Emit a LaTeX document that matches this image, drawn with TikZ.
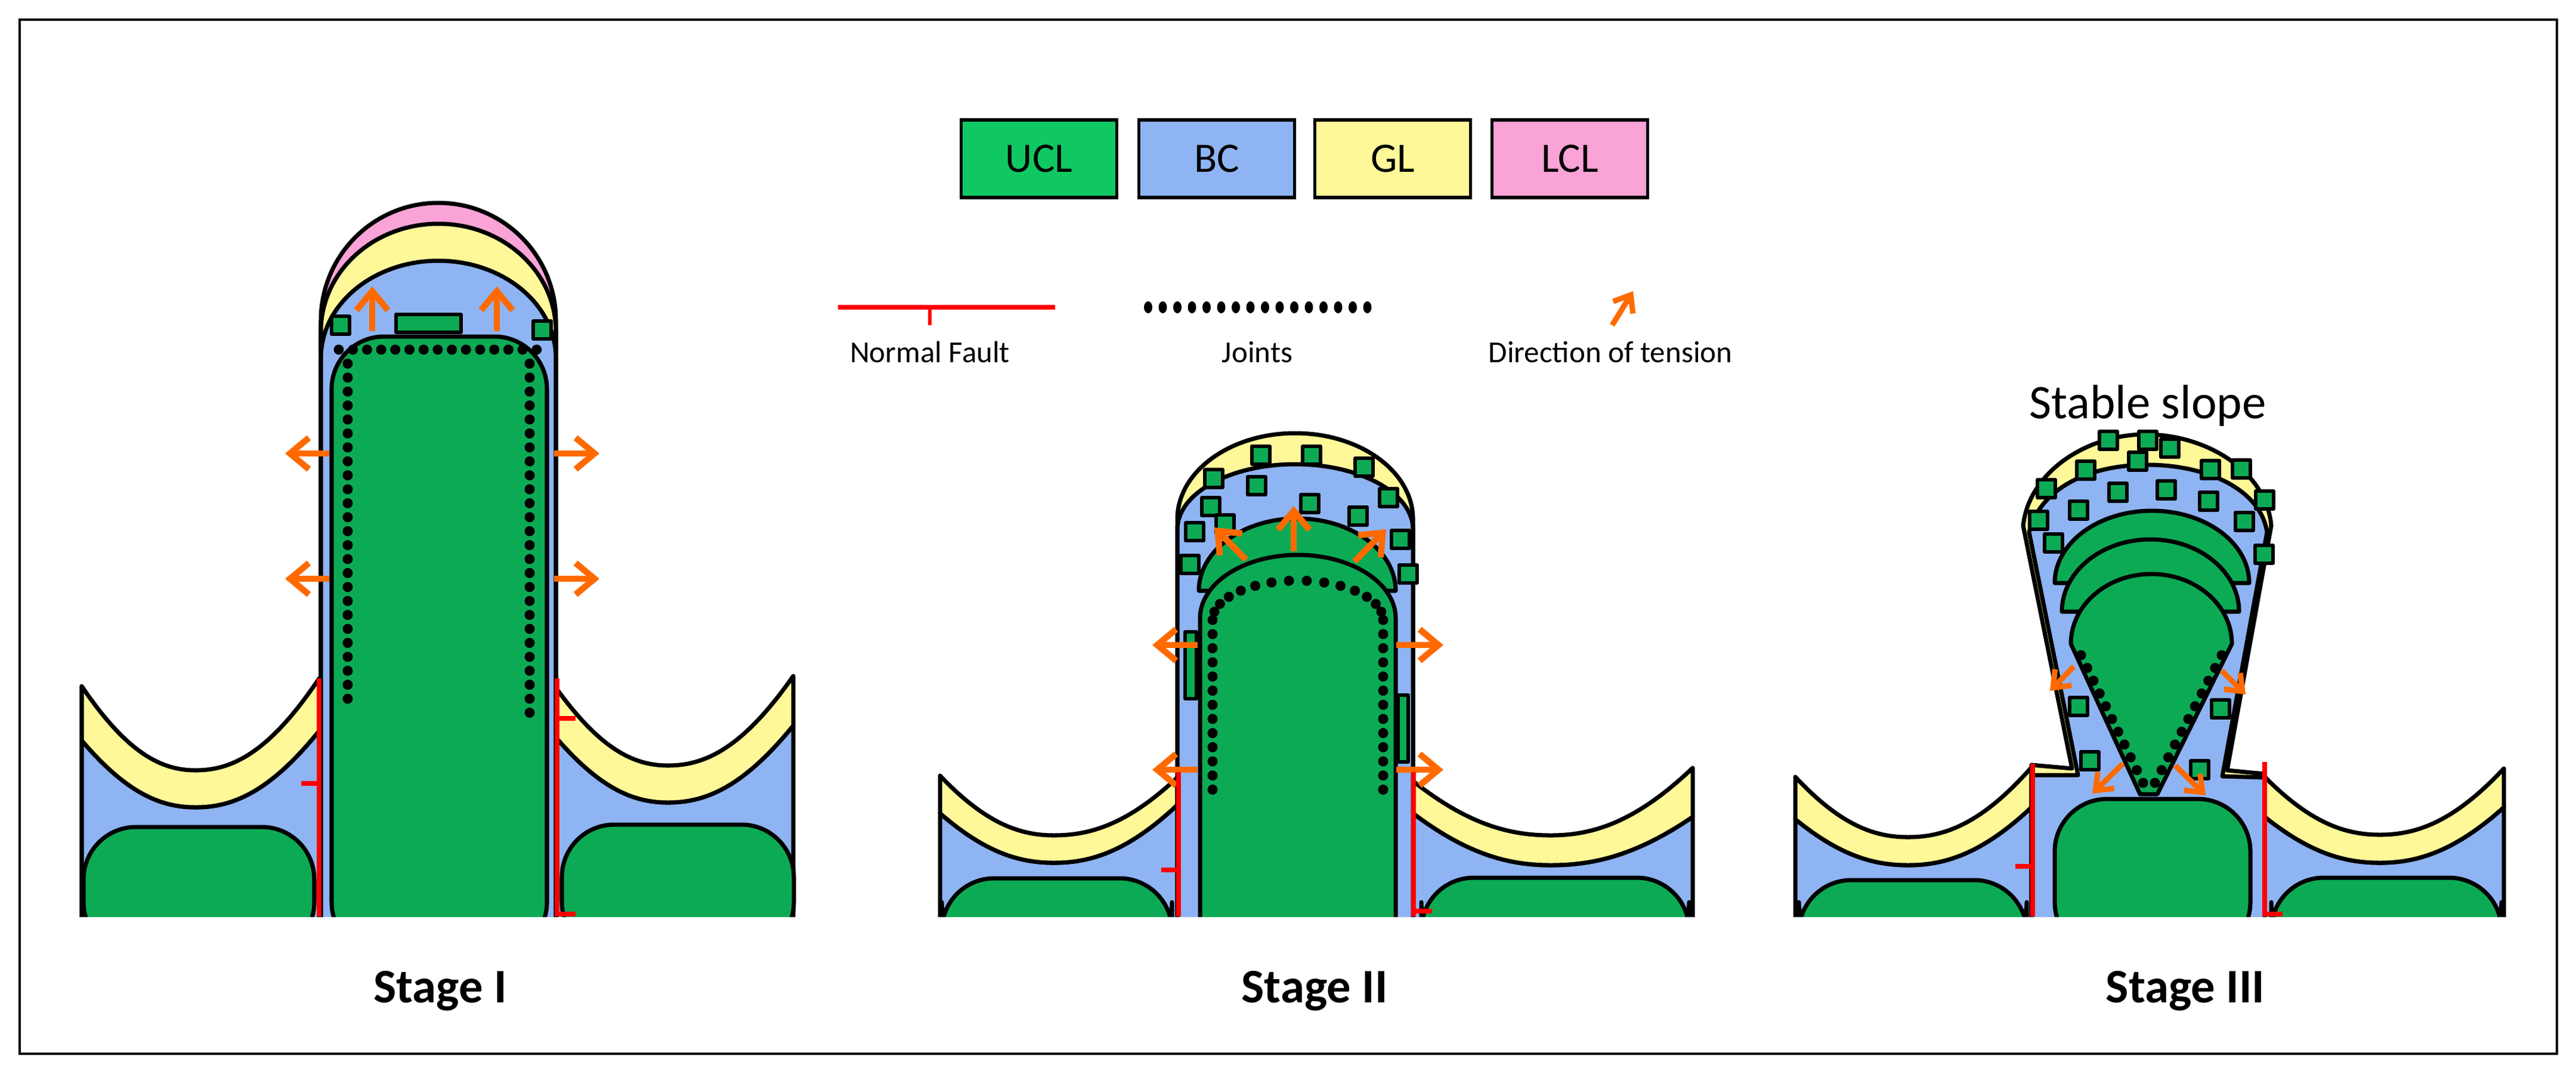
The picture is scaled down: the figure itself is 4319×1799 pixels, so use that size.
\documentclass[tikz,border=0pt]{standalone}
\usepackage{fontspec}
\setmainfont{Carlito}
\usetikzlibrary{arrows.meta}
\definecolor{ucl}{HTML}{0DAA55}
\definecolor{uclleg}{HTML}{10C862}
\definecolor{bc}{HTML}{8FB4F3}
\definecolor{gl}{HTML}{FFF899}
\definecolor{lcl}{HTML}{F9A3D6}
\definecolor{tens}{HTML}{FF6A00}
\newcommand\flank[9]{%
\path[ol,fill=bc] (#1,#3) .. controls ({#1+0.4*(#4-#1)},{#3+0.8*(#6-#3)}) and ({#4-0.3*(#4-#1)},#6) .. (#4,#6) .. controls ({#4+0.3*(#7-#4)},#6) and ({#7-0.4*(#7-#4)},{#9+0.8*(#6-#9)}) .. (#7,#9) -- (#7,1600) -- (#1,1600) -- cycle;
\path[ol,fill=gl] (#1,#2) .. controls ({#1+0.4*(#4-#1)},{#2+0.8*(#5-#2)}) and ({#4-0.3*(#4-#1)},#5) .. (#4,#5) .. controls ({#4+0.3*(#7-#4)},#5) and ({#7-0.4*(#7-#4)},{#8+0.8*(#5-#8)}) .. (#7,#8) -- (#7,#9) .. controls ({#7-0.4*(#7-#4)},{#9+0.8*(#6-#9)}) and ({#4+0.3*(#7-#4)},#6) .. (#4,#6) .. controls ({#4-0.3*(#4-#1)},#6) and ({#1+0.4*(#4-#1)},{#3+0.8*(#6-#3)}) .. (#1,#3) -- cycle;}
\newcommand\sqr[2]{\path[ol,fill=ucl,line width=1.6pt] ({#1-15},{#2-15}) rectangle ({#1+15},{#2+15});}
\begin{document}
\begin{tikzpicture}[x=0.01cm,y=-0.01cm,
 ol/.style={draw=black,line width=2pt,line join=round},
 arr/.style={draw=tens,line width=3pt,-{Straight Barb[length=9pt,width=15pt,line width=3pt]}},
 arrs/.style={draw=tens,line width=2.6pt,-{Straight Barb[length=7pt,width=11pt,line width=2.6pt]}},
 fault/.style={draw=red,line width=2.2pt},
 dot/.style={fill=black},
 leg/.style={draw=black,line width=1.5pt,minimum width=2.61cm,minimum height=1.3cm,font=\fontsize{20}{24}\selectfont},
 small/.style={font=\fontsize{14.5}{17}\selectfont},
 stage/.style={font=\bfseries\fontsize{23}{27}\selectfont}]
\useasboundingbox (0,0) rectangle (4319,1799);
\draw[line width=1.2pt] (33,33) rectangle (4287,1766);
% legend
\node[leg,fill=uclleg] (ucl) at (1742,266) {UCL};
\node[leg,fill=bc] (bcl) at (2040,266) {BC};
\node[leg,fill=gl] (gll) at (2335,266) {GL};
\node[leg,fill=lcl] (lcll) at (2632,266) {LCL};
\draw[draw=red,line width=2.5pt] (1405,515) -- (1769,515);
\draw[draw=red,line width=1.6pt] (1559,515) -- (1559,545);
\node[small] (nf) at (1559,590) {Normal Fault};
\foreach \i in {0,...,15} \fill[black] ({1925+\i*24.5},515) ellipse [x radius=7,y radius=10];
\node[small] (jt) at (2108,590) {Joints};
\draw[arrs] (2703,545) -- (2738,488);
\node[small] (dt) at (2700,590) {Direction of tension};
\node[stage] (s1) at (738,1661) {Stage I};
\node[stage] (s2) at (2204,1661) {Stage II};
\node[stage] (s3) at (3664,1661) {Stage III};
\node[font=\fontsize{23}{27}\selectfont] (ss) at (3601,680) {Stable slope};
\begin{scope}
\clip (0,0) rectangle (4319,1536);
% ===== Stage I
\flank{137}{1150}{1241}{328}{1291}{1353}{535}{1137}{1225}
\flank{933}{1154}{1237}{1120}{1283}{1345}{1330}{1133}{1216}
\path[ol,fill=ucl,rounded corners=25] (140,1386) rectangle (527,1600);
\path[ol,fill=ucl,rounded corners=25] (942,1382) rectangle (1331,1600);
\path[ol,fill=lcl] (538,1600) -- (538,537) arc[start angle=180,end angle=360,x radius=197,y radius=197] -- (932,1600) -- cycle;
\path[ol,fill=gl] (538,590) -- (538,555) arc[start angle=180,end angle=360,x radius=197,y radius=180] -- (932,590) -- cycle;
\path[ol,fill=bc] (538,1600) -- (538,600) arc[start angle=180,end angle=360,x radius=197,y radius=163] -- (932,1600) -- cycle;
\path[ol,fill=ucl,rounded corners=25] (556,1600) rectangle (917,564);
\sqr{571}{545}\sqr{909}{553}
\path[ol,fill=ucl,line width=1.6pt] (664,527) rectangle (773,557);
\draw[arr] (624,555) -- (624,480);
\draw[arr] (833,555) -- (833,480);
\draw[arr] (552,760) -- (478,760);
\draw[arr] (552,970) -- (478,970);
\draw[arr] (929,760) -- (1005,760);
\draw[arr] (929,970) -- (1005,970);
\foreach \i in {0,...,14} \fill[dot] ({568+\i*23.7},586) circle[radius=8.5];
\foreach \i in {1,...,25} \fill[dot] (583,{586+\i*23.4}) circle[radius=8.5];
\foreach \i in {1,...,26} \fill[dot] (888,{586+\i*23.4}) circle[radius=8.5];
\draw[fault] (535,1137) -- (535,1536);
\draw[fault] (535,1313) -- (505,1313);
\draw[fault] (934,1137) -- (934,1536);
\draw[fault] (934,1204) -- (965,1204);
\draw[fault] (934,1532) -- (965,1532);
% ===== Stage II
\flank{1576}{1300}{1363}{1767}{1400}{1446}{1974}{1303}{1349}
\flank{2369}{1309}{1363}{2600}{1400}{1450}{2838}{1287}{1369}
\path[ol,fill=ucl,rounded corners=25] (1579,1472) rectangle (1965,1600);
\path[ol,fill=ucl,rounded corners=25] (2383,1471) rectangle (2832,1600);
\path[ol,fill=gl] (1974,1600) -- (1974,870) arc[start angle=180,end angle=360,x radius=197.5,y radius=144] -- (2369,1600) -- cycle;
\path[ol,fill=bc] (1974,1600) -- (1974,887) arc[start angle=180,end angle=360,x radius=197.5,y radius=109] -- (2369,1600) -- cycle;
\foreach \p in {(2114,763),(2199,763),(2287,783),(2035,802),(2107,814),(2328,834),(2196,844),(2030,849),(2277,865),(2054,878),(2003,891),(2348,904),(1995,946),(2361,962)} {\path[ol,fill=ucl,line width=1.6pt] \p +(-15,-15) rectangle +(15,15);}
\path[ol,fill=ucl] (2010,990) arc[start angle=180,end angle=360,x radius=165,y radius=121] -- cycle;
\path[ol,fill=ucl] (2012,1600) -- (2012,1036) arc[start angle=180,end angle=360,x radius=164,y radius=106] -- (2340,1600) -- cycle;
\path[ol,fill=ucl,line width=1.6pt] (1987,1059) rectangle (2006,1171);
\path[ol,fill=ucl,line width=1.6pt] (2344,1165) rectangle (2361,1277);
\foreach \t in {0,12,...,180} \fill[dot] ({2176-143*cos(\t)},{1039-66*sin(\t)}) circle[radius=8.5];
\foreach \i in {1,...,12} \fill[dot] (2033,{1039+\i*23.7}) circle[radius=8.5];
\foreach \i in {1,...,12} \fill[dot] (2319,{1039+\i*23.7}) circle[radius=8.5];
\draw[arr] (2169,924) -- (2169,848);
\draw[arr] (2089,938) -- (2036,884);
\draw[arr] (2271,941) -- (2324,887);
\draw[arr] (2008,1081) -- (1932,1081);
\draw[arr] (2008,1290) -- (1932,1290);
\draw[arr] (2341,1081) -- (2420,1081);
\draw[arr] (2341,1290) -- (2420,1290);
\draw[fault] (1976,1294) -- (1976,1536);
\draw[fault] (1976,1458) -- (1947,1458);
\draw[fault] (2370,1294) -- (2370,1536);
\draw[fault] (2370,1527) -- (2401,1527);
% ===== Stage III
\flank{3010}{1302}{1373}{3199}{1403}{1450}{3406}{1286}{1353}
\flank{3797}{1302}{1369}{3990}{1399}{1446}{4198}{1288}{1353}
\path[ol,fill=ucl,rounded corners=25] (3016,1475) rectangle (3398,1600);
\path[ol,fill=ucl,rounded corners=25] (3808,1471) rectangle (4194,1600);
\path[ol,fill=gl] (3406,1600) -- (3406,1282) -- (3474,1288) -- (3392,881) .. controls (3402,790) and (3500,728) .. (3597,728) .. controls (3700,728) and (3800,790) .. (3808,881) -- (3734,1291) -- (3797,1297) -- (3797,1600) -- cycle;
\path[ol,fill=bc] (3406,1600) -- (3406,1299) -- (3484,1299) -- (3402,892) .. controls (3420,820) and (3500,779) .. (3600,779) .. controls (3700,779) and (3790,820) .. (3801,892) -- (3726,1301) -- (3797,1303) -- (3797,1600) -- cycle;
\path[ol,fill=ucl,rounded corners=25] (3445,1339) rectangle (3773,1600);
\foreach \p in {(3535,738),(3601,738),(3638,751),(3584,773),(3497,788),(3706,787),(3758,786),(3431,819),(3551,825),(3632,821),(3703,840),(3797,838),(3485,855),(3418,872),(3763,874),(3443,910),(3796,929),(3485,1184),(3723,1188),(3504,1275),(3688,1290)} {\path[ol,fill=ucl,line width=1.6pt] \p +(-15,-15) rectangle +(15,15);}
\path[ol,fill=ucl] (3445,977) arc[start angle=180,end angle=360,x radius=163,y radius=121] -- cycle;
\path[ol,fill=ucl] (3457,1025) arc[start angle=180,end angle=360,x radius=148.5,y radius=121] -- cycle;
\path[ol,fill=ucl] (3472,1079) arc[start angle=180,end angle=360,x radius=135,y radius=117] -- (3617,1331) -- (3588,1331) -- cycle;
\foreach \i in {0,...,10} \fill[dot] ({3489+\i*(3593-3489)/10},{1098+\i*(1312-1098)/10}) circle[radius=8.5];
\foreach \i in {0,...,10} \fill[dot] ({3725-\i*(3725-3613)/10},{1098+\i*(1312-1098)/10}) circle[radius=8.5];
\draw[arrs] (3477,1117) -- (3437,1158);
\draw[arrs] (3725,1124) -- (3765,1164);
\draw[arrs] (3559,1280) -- (3508,1330);
\draw[arrs] (3647,1283) -- (3698,1333);
\draw[fault] (3408,1280) -- (3408,1536);
\draw[fault] (3408,1452) -- (3379,1452);
\draw[fault] (3797,1277) -- (3797,1536);
\draw[fault] (3797,1532) -- (3827,1532);
\end{scope}
\end{tikzpicture}
\end{document}
